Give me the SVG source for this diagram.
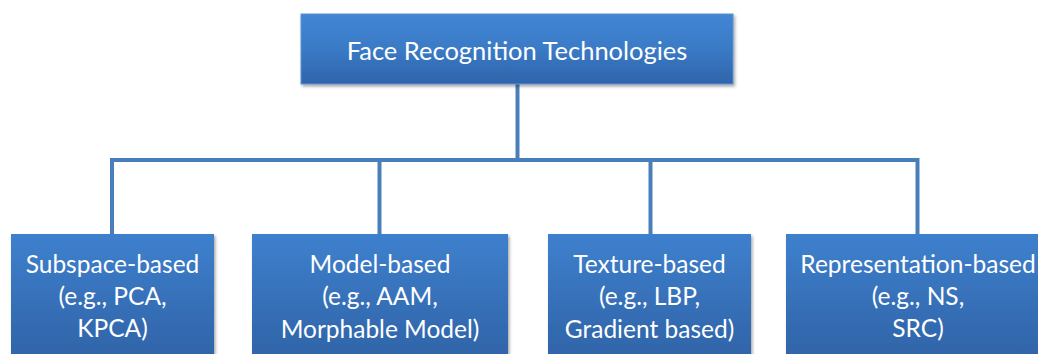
<svg xmlns="http://www.w3.org/2000/svg" width="1038" height="354" viewBox="0 0 1038 354">
  <defs>
    <linearGradient id="boxGrad" x1="0" y1="0" x2="0" y2="1">
      <stop offset="0" stop-color="#3e80cd"/>
      <stop offset="1" stop-color="#2f62a6"/>
    </linearGradient>
    <linearGradient id="titleGrad" x1="0" y1="0" x2="0" y2="1">
      <stop offset="0" stop-color="#4286d4"/>
      <stop offset="0.5" stop-color="#3a7ac6"/>
      <stop offset="1" stop-color="#2f64aa"/>
    </linearGradient>
    <filter id="shadow" x="-5%" y="-10%" width="110%" height="130%">
      <feDropShadow dx="1.5" dy="2" stdDeviation="1.5" flood-color="#000" flood-opacity="0.35"/>
    </filter>
  </defs>
  <style>
    .box { fill: url(#boxGrad); filter: url(#shadow); }
    .title { fill: url(#titleGrad); filter: url(#shadow); stroke: #5a92d6; stroke-width: 1; }
    .lbl { font-family: Lato, "Liberation Sans", sans-serif; font-size: 24.5px; fill: #ffffff; text-anchor: middle; }
    .conn { fill: none; stroke: #4a7ebb; stroke-width: 4; }
  </style>
  <rect width="1038" height="354" fill="#ffffff"/>
  <g id="connectors">
    <line class="conn" x1="517.5" y1="84" x2="517.5" y2="160"/>
    <polyline class="conn" points="112,234 112,160 917.5,160 917.5,234"/>
    <line class="conn" x1="379.5" y1="160" x2="379.5" y2="234"/>
    <line class="conn" x1="650.5" y1="160" x2="650.5" y2="234"/>
  </g>
  <g id="root">
    <rect class="title" x="301" y="14" width="432" height="70"/>
    <text class="lbl" x="517" y="59.5" style="font-size:25.5px">Face Recognition Technologies</text>
  </g>
  <g id="subspace">
    <rect class="box" x="11" y="234" width="203" height="130"/>
    <text class="lbl" x="112.5" y="273">Subspace-based</text>
    <text class="lbl" x="112.5" y="305">(e.g., PCA,</text>
    <text class="lbl" x="112.5" y="337">KPCA)</text>
  </g>
  <g id="model">
    <rect class="box" x="252" y="234" width="256" height="130"/>
    <text class="lbl" x="380" y="273">Model-based</text>
    <text class="lbl" x="380" y="305">(e.g., AAM,</text>
    <text class="lbl" x="380" y="338">Morphable Model)</text>
  </g>
  <g id="texture">
    <rect class="box" x="548" y="234" width="203" height="130"/>
    <text class="lbl" x="649.5" y="273">Texture-based</text>
    <text class="lbl" x="649.5" y="305">(e.g., LBP,</text>
    <text class="lbl" x="649.5" y="338">Gradient based)</text>
  </g>
  <g id="representation">
    <rect class="box" x="786" y="234" width="264" height="130"/>
    <text class="lbl" x="918" y="273">Representation-based</text>
    <text class="lbl" x="918" y="305">(e.g., NS,</text>
    <text class="lbl" x="918" y="337">SRC)</text>
  </g>
</svg>
